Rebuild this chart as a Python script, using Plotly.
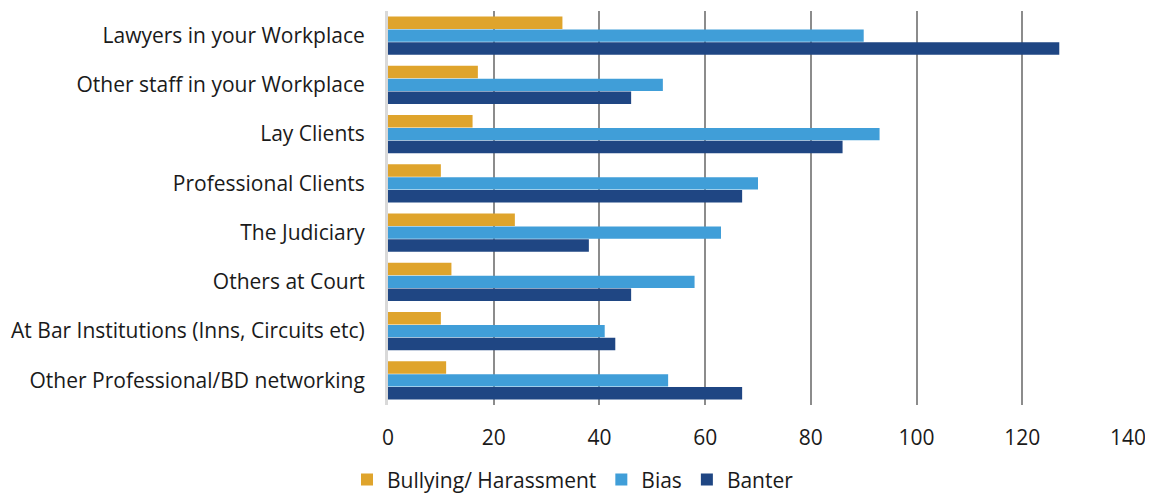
import plotly.graph_objects as go

categories = [
    "Lawyers in your Workplace",
    "Other staff in your Workplace",
    "Lay Clients",
    "Professional Clients",
    "The Judiciary",
    "Others at Court",
    "At Bar Institutions (Inns, Circuits etc)",
    "Other Professional/BD networking",
]
bullying = [33, 17, 16, 10, 24, 12, 10, 11]
bias = [90, 52, 93, 70, 63, 58, 41, 53]
banter = [127, 46, 86, 67, 38, 46, 43, 67]
x_ticks = [0, 20, 40, 60, 80, 100, 120, 140]

FONT = "Open Sans"

fig = go.Figure()
fig.add_trace(go.Bar(y=categories, x=bullying, orientation="h", name="Bullying/ Harassment",
                     marker=dict(color="#DFA42C", line=dict(width=0))))
fig.add_trace(go.Bar(y=categories, x=bias, orientation="h", name="Bias",
                     marker=dict(color="#409ED8", line=dict(width=0))))
fig.add_trace(go.Bar(y=categories, x=banter, orientation="h", name="Banter",
                     marker=dict(color="#1F4683", line=dict(width=0))))

fig.update_layout(
    width=1153, height=495,
    margin=dict(l=380, r=33, t=3, b=96),
    paper_bgcolor="white", plot_bgcolor="white",
    barmode="group", bargap=0.22, bargroupgap=0.03,
    font=dict(family=FONT, size=21, color="#1a1a1a"),
    xaxis=dict(range=[0, 140], tickvals=x_ticks, showgrid=True, gridcolor="#8c8c8c", gridwidth=2,
               zeroline=False, showline=False, ticks="outside", ticklen=14, tickcolor="rgba(0,0,0,0)",
               tickfont=dict(size=21), automargin=False),
    yaxis=dict(autorange="reversed", showgrid=False, showline=True, linecolor="#d9d9d9", linewidth=3,
               ticks="outside", ticklen=16, tickcolor="rgba(0,0,0,0)", tickfont=dict(size=21),
               automargin=False),
    legend=dict(orientation="h", x=0.25, xanchor="center", y=-0.19, yanchor="middle",
                font=dict(size=21), traceorder="normal"),
    showlegend=True,
)

fig.write_html("out.html")
